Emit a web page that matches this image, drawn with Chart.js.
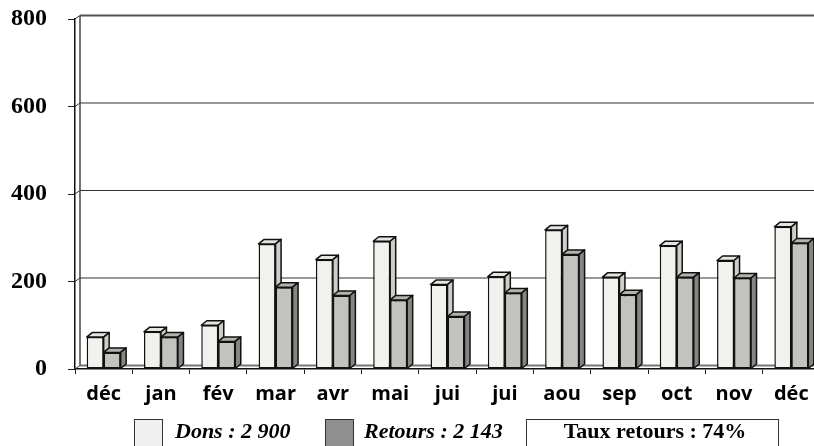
<!DOCTYPE html>
<html>
<head>
<meta charset="utf-8">
<script src="https://cdn.jsdelivr.net/npm/chart.js@4/dist/chart.umd.min.js"></script>
<style>
  html, body { margin: 0; padding: 0; background: #fff; overflow: hidden; }
  canvas { display: block; }
</style>
</head>
<body>
<canvas id="chart" width="830" height="446"></canvas>
<script>
const months = ["déc", "jan", "fév", "mar", "avr", "mai", "jui", "jui", "aou", "sep", "oct", "nov", "déc"];
const dons = [73, 85, 100, 286, 250, 292, 193, 211, 318, 210, 282, 248, 325];
const retours = [38, 73, 63, 187, 168, 158, 120, 174, 262, 170, 210, 208, 288];
const seriesNames = ["Dons", "Retours"];
const seriesTotals = ["2 900", "2 143"];
const rateText = "Taux retours : 74%";
const yTicks = [0, 200, 400, 600, 800];

// couleurs des faces : avant, dessus, côté
const faces = [
  { front: "#f1f1ee", top: "#e4e4e0", side: "#cdcdc9", legend: "#f0f0f0" },
  { front: "#c2c2be", top: "#b3b3ae", side: "#858682", legend: "#8f8f8f" }
];
const barDepth = { dx: 5.5, dy: -4.5 };
const wallDepth = { dx: 5, dy: -3.5 };

// fond 3D : mur du fond, quadrillage, sol
const wallPlugin = {
  id: "wall",
  beforeDatasetsDraw(chart) {
    const ctx = chart.ctx;
    const y = chart.scales.y;
    const left = chart.chartArea.left;
    const right = chart.width;
    ctx.save();
    ctx.lineCap = "butt";
    yTicks.forEach(v => {
      const py = y.getPixelForValue(v);
      ctx.strokeStyle = v === 800 ? "#555" : (v === 0 ? "#777" : "#333");
      ctx.lineWidth = v === 800 || v === 0 ? 2 : 1.2;
      ctx.beginPath();
      ctx.moveTo(left + wallDepth.dx, py + wallDepth.dy);
      ctx.lineTo(right, py + wallDepth.dy);
      ctx.stroke();
      ctx.strokeStyle = "#333";
      ctx.lineWidth = 1;
      ctx.beginPath();
      ctx.moveTo(left, py);
      ctx.lineTo(left + wallDepth.dx, py + wallDepth.dy);
      ctx.stroke();
    });
    ctx.strokeStyle = "#444";
    ctx.lineWidth = 1.5;
    ctx.beginPath();
    ctx.moveTo(left + wallDepth.dx, y.getPixelForValue(800) + wallDepth.dy);
    ctx.lineTo(left + wallDepth.dx, y.getPixelForValue(0) + wallDepth.dy);
    ctx.stroke();
    ctx.restore();
  }
};

function drawFaces(ctx, bar, f) {
  const x0 = bar.x - bar.width / 2, x1 = bar.x + bar.width / 2;
  const top = bar.y, base = bar.base;
  const dx = barDepth.dx, dy = barDepth.dy;
  ctx.lineWidth = 1.5;
  ctx.lineJoin = "round";
  ctx.strokeStyle = "#111";
  ctx.fillStyle = f.top;
  ctx.beginPath();
  ctx.moveTo(x0, top);
  ctx.lineTo(x0 + dx, top + dy);
  ctx.lineTo(x1 + dx, top + dy);
  ctx.lineTo(x1, top);
  ctx.closePath();
  ctx.fill();
  ctx.stroke();
  ctx.fillStyle = f.side;
  ctx.beginPath();
  ctx.moveTo(x1, top);
  ctx.lineTo(x1 + dx, top + dy);
  ctx.lineTo(x1 + dx, base + dy);
  ctx.lineTo(x1, base);
  ctx.closePath();
  ctx.fill();
  ctx.stroke();
}

const bars3dPlugin = {
  id: "bars3d",
  afterDatasetsDraw(chart) {
    const ctx = chart.ctx;
    const m0 = chart.getDatasetMeta(0);
    const m1 = chart.getDatasetMeta(1);
    ctx.save();
    m0.data.forEach((bar, i) => {
      drawFaces(ctx, bar, faces[0]);
      m1.data[i].draw(ctx);
      drawFaces(ctx, m1.data[i], faces[1]);
    });
    ctx.restore();
  }
};

const legendPlugin = {
  id: "legendBox",
  afterDraw(chart) {
    const ctx = chart.ctx;
    ctx.save();
    ctx.strokeStyle = "#333";
    ctx.lineWidth = 1;
    const items = [{ box: 134, text: 175 }, { box: 325, text: 364 }];
    items.forEach((it, i) => {
      ctx.fillStyle = faces[i].legend;
      ctx.fillRect(it.box, 419, 28, 30);
      ctx.strokeRect(it.box + 0.5, 419.5, 28, 30);
      ctx.fillStyle = "#000";
      ctx.font = "italic bold 22px 'Liberation Serif'";
      ctx.textBaseline = "alphabetic";
      ctx.textAlign = "left";
      ctx.fillText(seriesNames[i] + " : " + seriesTotals[i], it.text, 438);
    });
    ctx.strokeRect(526.5, 419.5, 252, 30);
    ctx.font = "bold 22px 'Liberation Serif'";
    ctx.textAlign = "center";
    ctx.fillStyle = "#000";
    ctx.fillText(rateText, 655, 438);
    ctx.restore();
  }
};

new Chart(document.getElementById("chart"), {
  type: "bar",
  data: {
    labels: months,
    datasets: [
      { label: seriesNames[0], data: dons, backgroundColor: faces[0].front },
      { label: seriesNames[1], data: retours, backgroundColor: faces[1].front }
    ]
  },
  options: {
    responsive: false,
    animation: false,
    devicePixelRatio: 1,
    layout: { padding: { top: 19, right: 10, left: 0, bottom: 0 } },
    datasets: {
      bar: {
        categoryPercentage: 0.593,
        barPercentage: 1,
        borderColor: "#111",
        borderWidth: 1.5,
        borderSkipped: false
      }
    },
    plugins: {
      legend: { display: false },
      tooltip: { enabled: false }
    },
    scales: {
      x: {
        afterFit: s => { s.height = 77; },
        grid: { drawOnChartArea: false, drawTicks: true, tickLength: 5, color: "#222", offset: true },
        border: { display: true, color: "#111", width: 1.5 },
        ticks: {
          color: "#000",
          font: { family: "'Open Sans'", size: 20, weight: "bold" },
          padding: 8,
          maxRotation: 0,
          autoSkip: false
        }
      },
      y: {
        min: 0,
        max: 800,
        afterFit: s => { s.width = 75; s.paddingTop = 0; s.paddingBottom = 0; },
        afterBuildTicks: s => { s.ticks = yTicks.map(v => ({ value: v })); },
        grid: { drawOnChartArea: false, drawTicks: true, tickLength: 7, color: "#222" },
        border: { display: true, color: "#111", width: 1.5 },
        ticks: {
          color: "#000",
          font: { family: "'Liberation Serif'", size: 24, weight: "bold" },
          padding: 21
        }
      }
    }
  },
  plugins: [wallPlugin, bars3dPlugin, legendPlugin]
});
</script>
</body>
</html>
